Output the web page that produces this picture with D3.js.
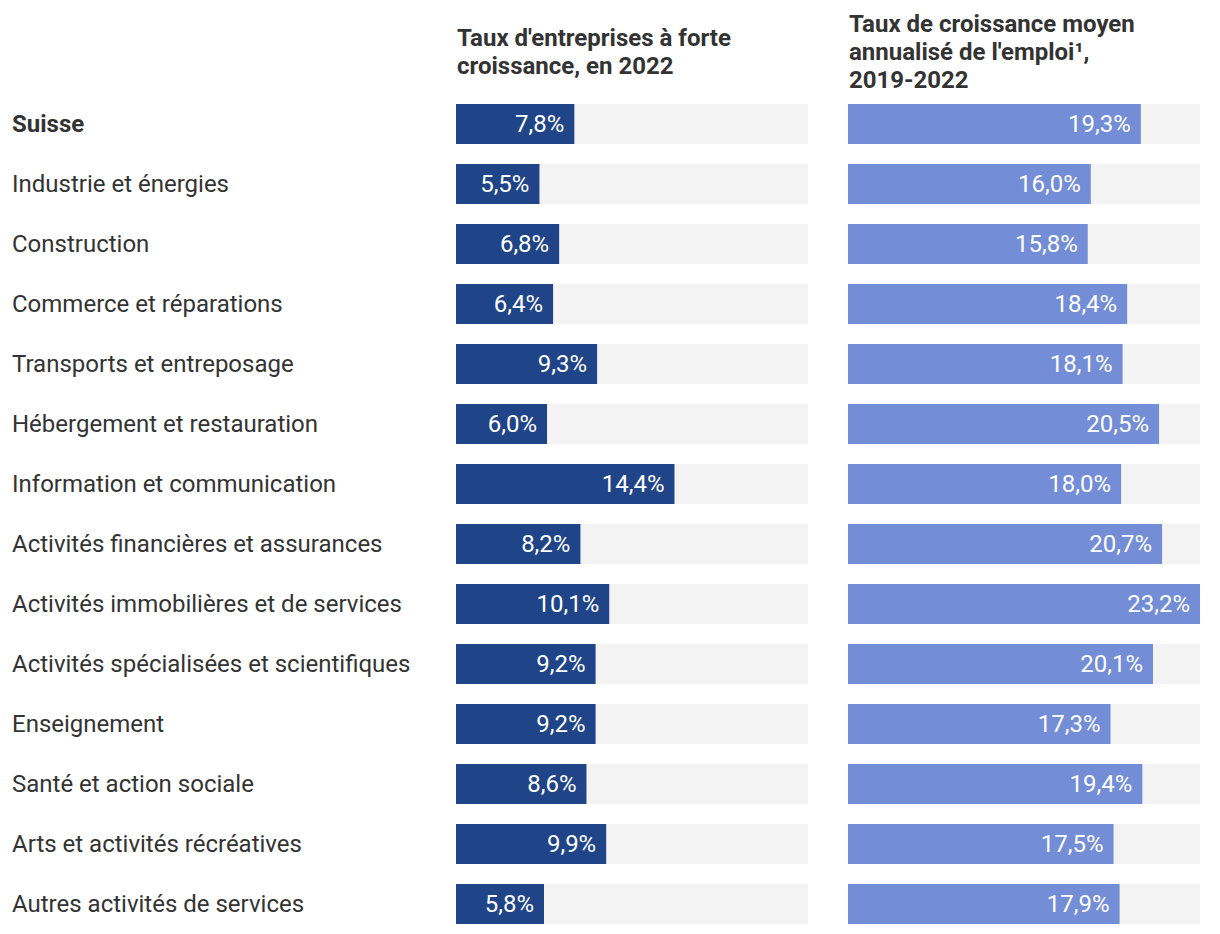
<!DOCTYPE html>
<html lang="fr">
<head>
    <meta charset="UTF-8">
    <title>Entreprises à forte croissance</title>
    <style>
        body {
            margin: 0;
            background-color: #ffffff;
        }
        svg {
            display: block;
            font-family: Roboto, "Noto Sans", sans-serif;
        }
        .label {
            font-size: 24px;
            fill: #333333;
        }
        .title {
            font-size: 24px;
            font-weight: bold;
            fill: #333333;
        }
        .value {
            font-size: 24px;
            fill: #ffffff;
        }
    </style>
    <script src="https://d3js.org/d3.v7.min.js"></script>
</head>
<body>
    <svg width="1220" height="934"></svg>

    <script>
        // Branches économiques
        const categories = [
            "Suisse",
            "Industrie et énergies",
            "Construction",
            "Commerce et réparations",
            "Transports et entreposage",
            "Hébergement et restauration",
            "Information et communication",
            "Activités financières et assurances",
            "Activités immobilières et de services",
            "Activités spécialisées et scientifiques",
            "Enseignement",
            "Santé et action sociale",
            "Arts et activités récréatives",
            "Autres activités de services"
        ];

        // Taux d'entreprises à forte croissance, en 2022 (%)
        const tauxForteCroissance = [7.8, 5.5, 6.8, 6.4, 9.3, 6.0, 14.4, 8.2, 10.1, 9.2, 9.2, 8.6, 9.9, 5.8];

        // Taux de croissance moyen annualisé de l'emploi, 2019-2022 (%)
        const tauxCroissanceEmploi = [19.3, 16.0, 15.8, 18.4, 18.1, 20.5, 18.0, 20.7, 23.2, 20.1, 17.3, 19.4, 17.5, 17.9];

        const titresColonnes = [
            ["Taux d'entreprises à forte", "croissance, en 2022"],
            ["Taux de croissance moyen", "annualisé de l'emploi¹,", "2019-2022"]
        ];

        const svg = d3.select("svg");

        const y = d3.scaleBand()
            .domain(categories)
            .range([94, 934])
            .paddingInner(1 / 3)
            .paddingOuter(1 / 6);

        // même échelle pour les deux colonnes
        const maxVal = d3.max([...tauxForteCroissance, ...tauxCroissanceEmploi]);
        const colonnes = [
            { x0: 456, valeurs: tauxForteCroissance, couleur: "#1f4488" },
            { x0: 848, valeurs: tauxCroissanceEmploi, couleur: "#738dd7" }
        ];
        const largeur = 352;

        const fmt = v => d3.format(".1f")(v).replace(".", ",") + "%";

        // Libellés des catégories
        svg.selectAll("text.label")
            .data(categories)
            .enter().append("text")
            .attr("class", "label")
            .attr("x", 12)
            .attr("y", d => y(d) + y.bandwidth() / 2)
            .attr("dy", "0.35em")
            .style("font-weight", (d, i) => i === 0 ? "bold" : null)
            .text(d => d);

        colonnes.forEach((col, ci) => {
            const x = d3.scaleLinear()
                .domain([0, maxVal])
                .range([col.x0, col.x0 + largeur]);

            const g = svg.append("g");

            // Titre (centré verticalement)
            const lignes = titresColonnes[ci];
            g.selectAll("text.title")
                .data(lignes)
                .enter().append("text")
                .attr("class", "title")
                .attr("x", col.x0 + 1)
                .attr("y", (d, i) => 60 + (i - (lignes.length - 1) / 2) * 28)
                .text(d => d);

            // Fond gris
            g.selectAll("rect.track")
                .data(categories)
                .enter().append("rect")
                .attr("class", "track")
                .attr("x", x(0))
                .attr("y", d => y(d))
                .attr("width", largeur)
                .attr("height", y.bandwidth())
                .style("fill", "#f3f3f3");

            // Barres
            g.selectAll("rect.bar")
                .data(col.valeurs)
                .enter().append("rect")
                .attr("class", "bar")
                .attr("x", x(0))
                .attr("y", (d, i) => y(categories[i]))
                .attr("width", d => x(d) - x(0))
                .attr("height", y.bandwidth())
                .style("fill", col.couleur);

            // Valeurs
            g.selectAll("text.value")
                .data(col.valeurs)
                .enter().append("text")
                .attr("class", "value")
                .attr("x", d => x(d) - 10)
                .attr("y", (d, i) => y(categories[i]) + y.bandwidth() / 2)
                .attr("dy", "0.35em")
                .attr("text-anchor", "end")
                .text(d => fmt(d));
        });
    </script>
</body>
</html>
